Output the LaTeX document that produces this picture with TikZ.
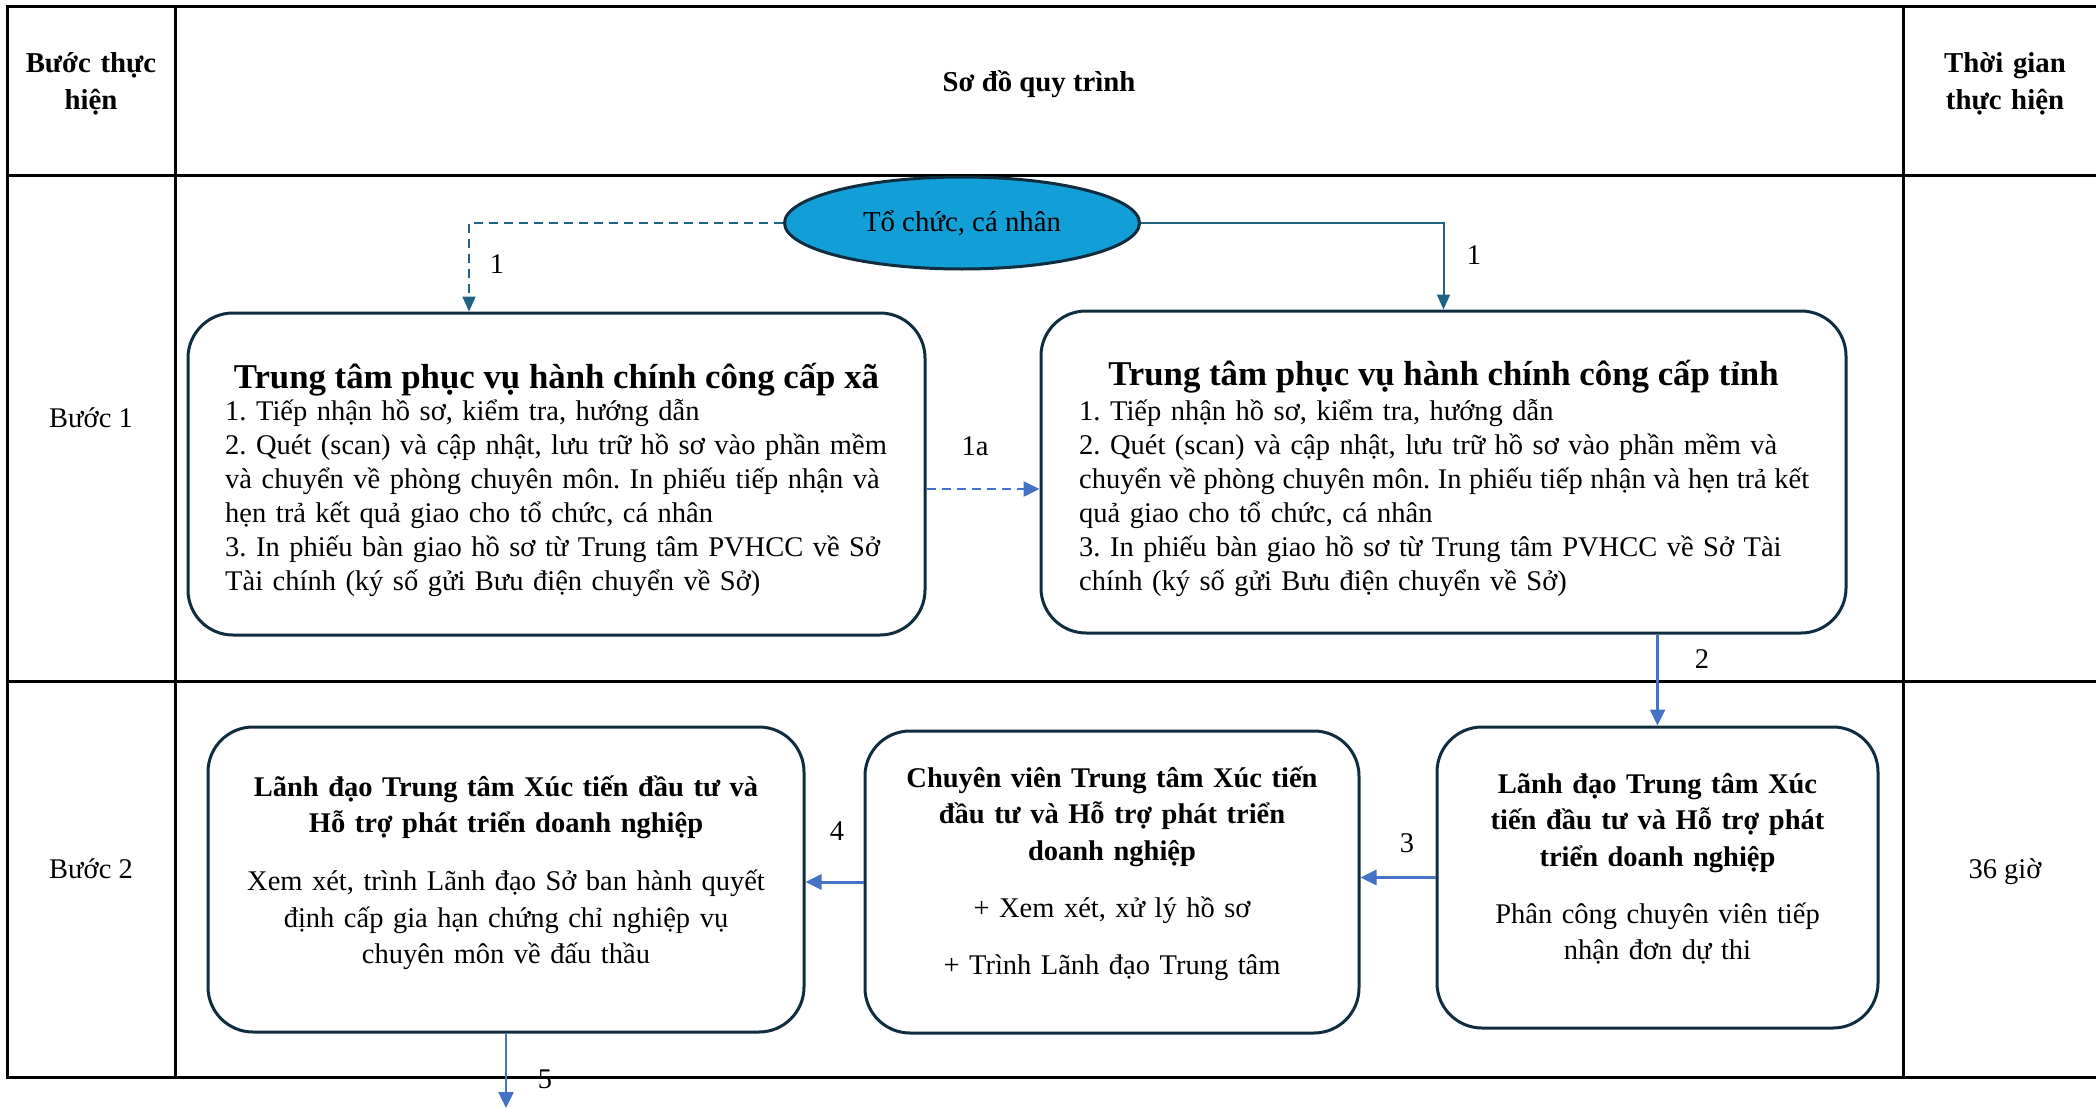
\documentclass[tikz,border=0pt]{standalone}
\usepackage{fontspec}
\setmainfont{Liberation Serif}
\frenchspacing
\usetikzlibrary{shapes.geometric,arrows.meta}
\definecolor{ellfill}{RGB}{18,158,214}
\definecolor{navy}{RGB}{16,45,64}
\definecolor{tealline}{RGB}{30,98,132}
\definecolor{blueline}{RGB}{68,114,196}
\tikzset{
  grid/.style={line width=3pt, draw=black},
  box/.style={draw=navy, line width=3pt, rounded corners=45pt, inner sep=0pt, fill=white},
  bodytxt/.style={inner sep=0pt, anchor=base west, font=\fontsize{28.5}{34}\selectfont\frenchspacing},
  titletxt/.style={inner sep=0pt, anchor=base, font=\fontsize{34.8}{42}\selectfont\bfseries},
  ctext/.style={inner sep=0pt, anchor=base, align=center, font=\fontsize{28.5}{36.5}\selectfont\frenchspacing},
  plain/.style={inner sep=0pt, anchor=base, font=\fontsize{28.5}{34}\selectfont},
  tealarrow/.style={draw=tealline, line width=2pt, -{Triangle[length=15pt,width=13pt]}},
  bluearrow/.style={draw=blueline, line width=2.5pt, -{Triangle[length=16pt,width=15pt]}},
  dashpat/.style={dash pattern=on 9pt off 6pt}
}
\begin{document}
\begin{tikzpicture}[x=1pt,y=-1pt]
\path[use as bounding box] (0,0) rectangle (2096,1108);
\clip (0,0) rectangle (2096,1108);

% table
\draw[grid] (7,7) rectangle (2112,1077);
\draw[grid] (7,175) -- (2112,175);
\draw[grid] (7,681) -- (2112,681);
\draw[grid] (175,7) -- (175,1077);
\draw[grid] (1903,7) -- (1903,1077);

% header
\node[ctext, text width=160pt, font=\fontsize{28.8}{36}\selectfont\bfseries] (h1) at (91,73) {Bước thực\\hiện};
\node[plain, font=\fontsize{28.8}{34}\selectfont\bfseries] (h2) at (1039,92) {Sơ đồ quy trình};
\node[ctext, text width=190pt, font=\fontsize{28.8}{36}\selectfont\bfseries] (h3) at (2005,73) {Thời gian\\thực hiện};

\node[plain] (r1) at (91,427) {Bước 1};
\node[plain] (r2) at (91,878) {Bước 2};
\node[plain] (t2) at (2005,878) {36 giờ};

% ellipse
\node[ellipse, draw=navy, line width=3pt, fill=ellfill, minimum width=355pt, minimum height=92pt, inner sep=0pt, font=\fontsize{28.8}{34}\selectfont] (O) at (962,223) {Tổ chức, cá nhân};

% box A
\node[box, minimum width=737pt, minimum height=322pt] (A) at (556.5,474) {};
\node[titletxt] (At) at (556.5,388) {Trung tâm phục vụ hành chính công cấp xã};
\node[bodytxt, text width=664pt] (Ab) at (225,420) {%
1. Tiếp nhận hồ sơ, kiểm tra, hướng dẫn\\
\makebox[\linewidth][s]{2. Quét (scan) và cập nhật, lưu trữ hồ sơ vào phần mềm}\\
\makebox[\linewidth][s]{và chuyển về phòng chuyên môn. In phiếu tiếp nhận và}\\
hẹn trả kết quả giao cho tổ chức, cá nhân\\
\makebox[\linewidth][s]{3. In phiếu bàn giao hồ sơ từ Trung tâm PVHCC về Sở}\\
Tài chính (ký số gửi Bưu điện chuyển về Sở)};

% box B
\node[box, minimum width=805pt, minimum height=322pt] (B) at (1443.5,472) {};
\node[titletxt] (Bt) at (1443.5,385) {Trung tâm phục vụ hành chính công cấp tỉnh};
\node[bodytxt, text width=730pt] (Bb) at (1079,420) {%
1. Tiếp nhận hồ sơ, kiểm tra, hướng dẫn\\
\makebox[\linewidth][s]{2. Quét (scan) và cập nhật, lưu trữ hồ sơ vào phần mềm và}\\
\makebox[\linewidth][s]{\spaceskip=0.15em plus 0.5em\relax chuyển về phòng chuyên môn. In phiếu tiếp nhận và hẹn trả kết}\\
quả giao cho tổ chức, cá nhân\\
\makebox[\linewidth][s]{3. In phiếu bàn giao hồ sơ từ Trung tâm PVHCC về Sở Tài}\\
chính (ký số gửi Bưu điện chuyển về Sở)};

% row 2 boxes
\node[box, minimum width=441pt, minimum height=301pt] (C) at (1657.5,877.5) {};
\node[ctext, text width=430pt] (Ct) at (1657.5,793) {%
\textbf{Lãnh đạo Trung tâm Xúc}\\
\textbf{tiến đầu tư và Hỗ trợ phát}\\
\textbf{triển doanh nghiệp}\\[20.5pt]
Phân công chuyên viên tiếp\\
nhận đơn dự thi};

\node[box, minimum width=494pt, minimum height=302pt] (D) at (1112,882) {};
\node[ctext, text width=480pt] (Dt) at (1112,787) {%
\textbf{Chuyên viên Trung tâm Xúc tiến}\\
\textbf{đầu tư và Hỗ trợ phát triển}\\
\textbf{doanh nghiệp}\\[20.5pt]
+ Xem xét, xử lý hồ sơ\\[20.5pt]
+ Trình Lãnh đạo Trung tâm};

\node[box, minimum width=596pt, minimum height=305pt] (E) at (506,879.5) {};
\node[ctext, text width=580pt] (Et) at (506,796) {%
\textbf{Lãnh đạo Trung tâm Xúc tiến đầu tư và}\\
\textbf{Hỗ trợ phát triển doanh nghiệp}\\[21.5pt]
Xem xét, trình Lãnh đạo Sở ban hành quyết\\
định cấp gia hạn chứng chỉ nghiệp vụ\\
chuyên môn về đấu thầu};

% connectors
\draw[tealarrow, dashpat] (O.west) -| ([xshift=-87.5pt]A.north);
\draw[tealarrow] (O.east) -| (B.north);
\draw[bluearrow, dashpat] ([yshift=-15pt]A.east) -- ([yshift=-15pt]A.east -| B.west);
\draw[bluearrow] (B.south -| C.north) -- (C.north);
\draw[bluearrow, line width=3pt] (C.west) -- (C.west -| D.east);
\draw[bluearrow, line width=3pt] (D.west) -- (D.west -| E.east);
\coordinate (E5) at (506,1108);
\draw[bluearrow] (E.south) -- (E5);

% connector labels
\node[plain] (n1a) at (497,273) {1};
\node[plain] (n1b) at (1474,264) {1};
\node[plain] (n1c) at (975,455) {1a};
\node[plain] (n2) at (1702,668) {2};
\node[plain] (n3) at (1407,852) {3};
\node[plain] (n4) at (837,840) {4};
\node[plain] (n5) at (545,1088) {5};
\end{tikzpicture}
\end{document}
